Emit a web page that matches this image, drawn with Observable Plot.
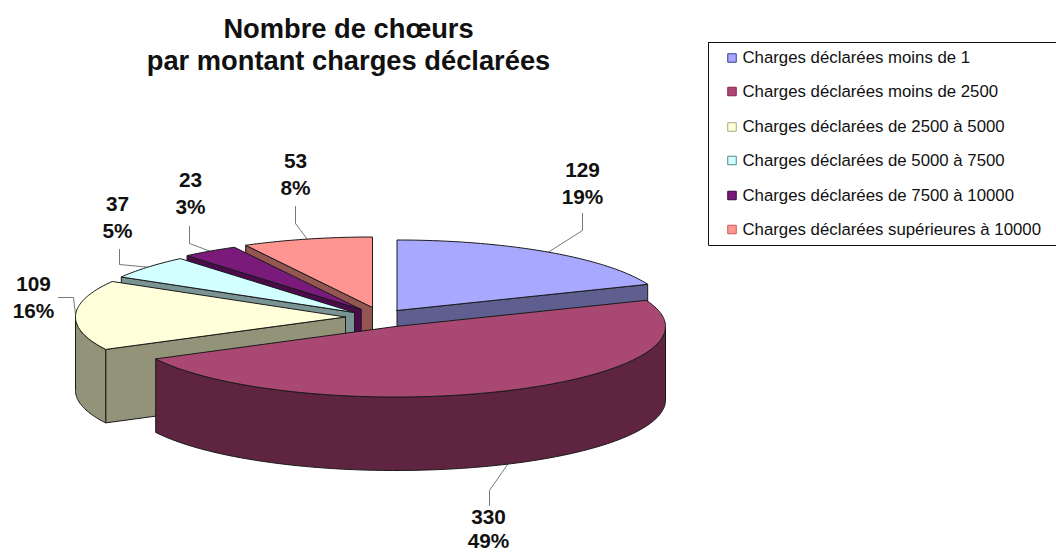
<!DOCTYPE html>
<html><head><meta charset="utf-8">
<script src="https://cdn.jsdelivr.net/npm/d3@7"></script>
<script src="https://cdn.jsdelivr.net/npm/@observablehq/plot@0.6"></script>
<style>html,body{margin:0;padding:0;background:#fff}svg{display:block}</style>
</head><body><div id="chart"></div>
<script>
// ---- data ----
const categories = ["Charges déclarées moins de 1","Charges déclarées moins de 2500","Charges déclarées de 2500 à 5000","Charges déclarées de 5000 à 7500","Charges déclarées de 7500 à 10000","Charges déclarées supérieures à 10000"];
const counts = [129,330,109,37,23,53];
const percents = ["19%","49%","16%","5%","3%","8%"];
const titleLines = ["Nombre de chœurs","par montant charges déclarées"];
// ---- styles ----
const topColors  = ["#a8a8ff","#a94872","#ffffd9","#d2ffff","#7a1a7a","#ff9591"];
const sideColors = ["#5f5f8f","#5f2540","#939379","#7a9494","#4b0a4b","#945553"];
const legendStroke = ["#3c3c8c","#8f1f50","#a8a878","#4f8a8a","#3a0a3a","#c85a55"];
// ---- layout (exploded apex of each slice, ellipse radii, wall depth, label anchors) ----
const W = 1056, H = 553;
const apexX = [396.5,395,345,354,360.7,372];
const apexY = [310,326,316.5,312,309,307];
const rx = 270, ry = 70.5, depth = 73.5;
const labelX = [582,488,33,117,190,295];
const labelY = [170,517,284,204,180,161];
const pctY = [196.5,540.5,310.5,230.5,206.5,187.5];
const elbow = [[[582,230],[582,213]],[[489,490],[489,505]],[[73,297],[58,297]],[[119,264],[119,249]],[[189,243],[189,226]],[[295,223],[295,206]]];
const legendX = 731.5, legendTextX = 742;
const legendY = [57.5,91,126.5,160,195,229];

const total = d3.sum(counts);
const cum = d3.cumsum(counts);
const spans = counts.map((c,i)=>[(cum[i]-c)/total*2*Math.PI, cum[i]/total*2*Math.PI]);
const pt = (i,t,dz=0)=>({x:apexX[i]+rx*Math.sin(t), y:apexY[i]-ry*Math.cos(t)+dz});
const apex = (i,dz=0)=>({x:apexX[i],y:apexY[i]+dz});
const arc = (i,a,b,dz=0)=>{const n=Math.max(2,Math.ceil(Math.abs(b-a)*60));return d3.range(n+1).map(k=>pt(i,a+(b-a)*k/n,dz));};

const faces = [];
function addFace(id,pts,fill){pts=[...pts,pts[0]];pts.forEach(p=>faces.push({id,fill,x:p.x,y:p.y}));}
// painter's order: back slices first, then slice 1, then the big front slice
[5,4,3,2,0,1].forEach(i=>{
  const [a,b]=spans[i];
  // radial wall of the slice's starting edge, if it faces the viewer
  if (i!==1 && i!==0) addFace(`r${i}`,[apex(i),pt(i,a),pt(i,a,depth),apex(i,depth)],sideColors[i]);
  // radial wall of the end edge (first slice)
  if (i===0) addFace(`r${i}`,[apex(i),pt(i,b),pt(i,b,depth),apex(i,depth)],sideColors[i]);
  // outer wall, only the front half of the ellipse
  const lo=Math.max(a,Math.PI/2), hi=Math.min(b,3*Math.PI/2);
  if (lo<hi) addFace(`w${i}`,[...arc(i,lo,hi),...arc(i,hi,lo,depth)],sideColors[i]);
  addFace(`t${i}`,[apex(i),...arc(i,a,b)],topColors[i]);
});

const leaders = counts.flatMap((c,i)=>{
  const mid=(spans[i][0]+spans[i][1])/2;
  const front=Math.cos(mid)<0 && i===1;
  const s=pt(i,mid,front?depth:0);
  return [s,...elbow[i].map(e=>({x:e[0],y:e[1]}))].map(p=>({id:i,...p}));
});
const valueRows = counts.map((c,i)=>({t:String(c),x:labelX[i],y:labelY[i]}));
const pctRows = percents.map((t,i)=>({t,x:labelX[i],y:pctY[i]}));
const legendRows = categories.map((t,i)=>({t,x:legendTextX,y:legendY[i],fill:topColors[i],stroke:legendStroke[i]}));
const titleRows = titleLines.map((t,i)=>({t,x:348,y:i?61:29}));
const legendBox = [[708,42],[1056,42],[1056,245],[708,245],[708,42]].map(p=>({x:p[0],y:p[1]}));

const plot = Plot.plot({
  width:W,height:H,margin:0,
  style:{fontFamily:'"Liberation Sans",Arial,sans-serif',background:"#fff"},
  x:{domain:[0,W],range:[0,W],axis:null},
  y:{domain:[0,H],range:[0,H],axis:null},
  color:{type:"identity"},
  marks:[
    Plot.line(leaders,{x:"x",y:"y",z:"id",stroke:"#555",strokeWidth:0.8,curve:"linear"}),
    Plot.line(faces,{x:"x",y:"y",z:"id",fill:"fill",stroke:"#1a1a1a",strokeWidth:1,strokeLinejoin:"round",curve:"linear"}),
    Plot.line(legendBox,{x:"x",y:"y",stroke:"#111",strokeWidth:1,curve:"linear"}),
    Plot.dot(legendRows,{x:()=>legendX,y:"y",symbol:"square",r:4.8,fill:"fill",stroke:"stroke",strokeWidth:1}),
    Plot.text(legendRows,{x:"x",y:"y",text:"t",textAnchor:"start",fontSize:16.8,fill:"#111"}),
    Plot.text(valueRows,{x:"x",y:"y",text:"t",fontSize:20.8,fontWeight:"bold",fill:"#111"}),
    Plot.text(pctRows,{x:"x",y:"y",text:"t",fontSize:20.8,fontWeight:"bold",fill:"#111"}),
    Plot.text(titleRows,{x:"x",y:"y",text:"t",fontSize:27.3,fontWeight:"bold",fill:"#111"})
  ]
});
document.getElementById("chart").append(plot);
</script></body></html>
